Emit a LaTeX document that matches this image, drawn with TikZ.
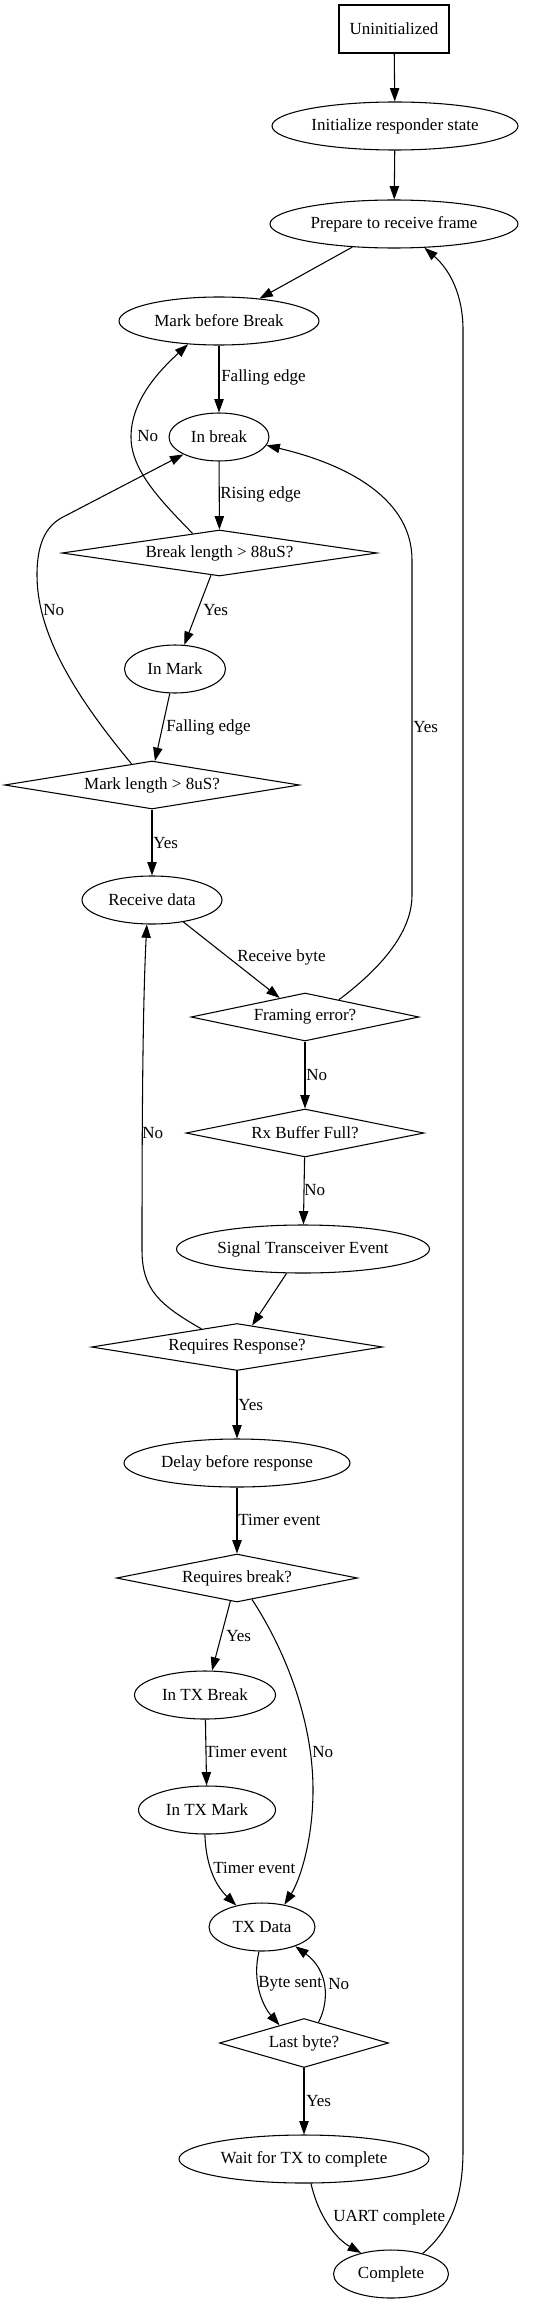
\documentclass[tikz,border=0pt]{standalone}
\usepackage{fontspec}
\setmainfont{Liberation Serif}
\usetikzlibrary{shapes.geometric,arrows.meta}
\begin{document}
\begin{tikzpicture}[x=0.75pt,y=-0.75pt,
  every node/.style={font=\fontsize{12.75pt}{15pt}\selectfont},
  base/.style={draw, line width=0.8pt, inner sep=0pt},
  ell/.style={base, ellipse, minimum height=36pt},
  dia/.style={base, diamond, aspect=5.5, minimum height=36pt},
  boxn/.style={base, rectangle},
  lbl/.style={inner sep=0pt, anchor=west},
  conn/.style={-{Triangle[length=10pt,width=7pt]}, line width=0.8pt},
]
\path[use as bounding box] (0,0) rectangle (554,2304);

% nodes
\node[boxn, minimum width=82.5pt, minimum height=36pt] (uninit) at (394,29) {Uninitialized};
\node[ell, minimum width=184.5pt] (init) at (395,126) {Initialize responder state};
\node[ell, minimum width=186pt] (prep) at (394,224) {Prepare to receive frame};
\node[ell, minimum width=150pt] (mbb) at (219,321) {Mark before Break};
\node[ell, minimum width=75pt] (inbrk) at (219,437) {In break};
\node[dia, minimum width=236.25pt, minimum height=34.5pt] (brk) at (219.5,553) {Break length > 88uS?};
\node[ell, minimum width=75.75pt] (inmark) at (175,669) {In Mark};
\node[dia, minimum width=221.25pt] (mlen) at (152,785) {Mark length > 8uS?};
\node[ell, minimum width=105pt] (recv) at (152,900) {Receive data};
\node[dia, minimum width=171pt] (frm) at (305,1017) {Framing error?};
\node[dia, minimum width=178.5pt] (rxf) at (305,1133) {Rx Buffer Full?};
\node[ell, minimum width=189.75pt] (sig) at (303,1249) {Signal Transceiver Event};
\node[dia, minimum width=218.25pt, minimum height=35.25pt] (rr) at (237,1347) {Requires Response?};
\node[ell, minimum width=169.5pt] (delay) at (237,1463) {Delay before response};
\node[dia, minimum width=180.75pt] (rb) at (237,1578) {Requires break?};
\node[ell, minimum width=105.75pt] (txb) at (205,1695) {In TX Break};
\node[ell, minimum width=102.75pt] (txm) at (207,1810) {In TX Mark};
\node[ell, minimum width=79.5pt] (txd) at (262,1927) {TX Data};
\node[dia, minimum width=126.75pt, minimum height=36.75pt] (lb) at (304,2043) {Last byte?};
\node[ell, minimum width=187.5pt] (wait) at (304,2159) {Wait for TX to complete};
\node[ell, minimum width=86.25pt] (comp) at (391,2274) {Complete};

% connectors
\draw[conn] (uninit) -- (init);
\draw[conn] (init) -- (prep);
\draw[conn] (prep) -- (mbb);
\draw[conn] (mbb) -- (inbrk);
\draw[conn] (inbrk) -- (brk);
\draw[conn] (brk.144) .. controls (160,500) and (131,470) .. (131,437)
  .. controls (131,400) and (160,370) .. (mbb.217);
\draw[conn] (brk.249) -- (inmark.69);
\draw[conn] (inmark.258) -- (mlen.83);
\draw[conn] (mlen.134) .. controls (70,690) and (37,630) .. (37,575)
  .. controls (37,540) and (48,524) .. (65,516) -- (inbrk.206);
\draw[conn] (mlen) -- (recv);
\draw[conn] (recv.325) -- (frm.143);
\draw[conn] (frm.27) .. controls (385,965) and (412,930) .. (412,895) -- (412,560)
  .. controls (412,500) and (350,465) .. (inbrk.350);
\draw[conn] (frm) -- (rxf);
\draw[conn] (rxf) -- (sig);
\draw[conn] (sig.236) -- (rr.55);
\draw[conn] (rr.153) .. controls (160,1305) and (142,1290) .. (142,1250)
  .. controls (142,1100) and (143,1000) .. (recv.258);
\draw[conn] (rr) -- (delay);
\draw[conn] (delay) -- (rb);
\draw[conn] (rb.254) -- (txb.74);
\draw[conn] (rb.305) .. controls (285,1650) and (313,1720) .. (313,1790)
  .. controls (313,1840) and (300,1880) .. (txd.45);
\draw[conn] (txb) -- (txm);
\draw[conn] (txm.265) .. controls (206,1865) and (215,1885) .. (txd.140);
\draw[conn] (txd.263) .. controls (252,1980) and (262,2005) .. (lb.144);
\draw[conn] (lb.55) .. controls (330,2000) and (328,1970) .. (txd.330);
\draw[conn] (lb) -- (wait);
\draw[conn] (wait.286) .. controls (318,2215) and (335,2238) .. (comp.145);
\draw[conn] (comp.33) .. controls (450,2230) and (463,2200) .. (463,2150) -- (463,330)
  .. controls (463,295) and (450,270) .. (prep.322);

% labels
\node[lbl] (l1) at (221,377) {Falling edge};
\node[lbl] (l2) at (220,494) {Rising edge};
\node[lbl] (l3) at (137,436) {No};
\node[lbl] (l4) at (203,610) {Yes};
\node[lbl] (l5) at (166,727) {Falling edge};
\node[lbl] (l6) at (43,610) {No};
\node[lbl] (l7) at (153,843) {Yes};
\node[lbl] (l8) at (237,957) {Receive byte};
\node[lbl] (l9) at (413,727) {Yes};
\node[lbl] (l10) at (306,1075) {No};
\node[lbl] (l11) at (304,1190) {No};
\node[lbl] (l12) at (142,1133) {No};
\node[lbl] (l13) at (238,1405) {Yes};
\node[lbl] (l14) at (238,1520) {Timer event};
\node[lbl] (l15) at (226,1636) {Yes};
\node[lbl] (l16) at (312,1752) {No};
\node[lbl] (l17) at (205,1752) {Timer event};
\node[lbl] (l18) at (213,1868) {Timer event};
\node[lbl] (l19) at (258,1984) {Byte sent};
\node[lbl] (l20) at (328,1984) {No};
\node[lbl] (l21) at (306,2101) {Yes};
\node[lbl] (l22) at (333,2217) {UART complete};
\end{tikzpicture}
\end{document}
